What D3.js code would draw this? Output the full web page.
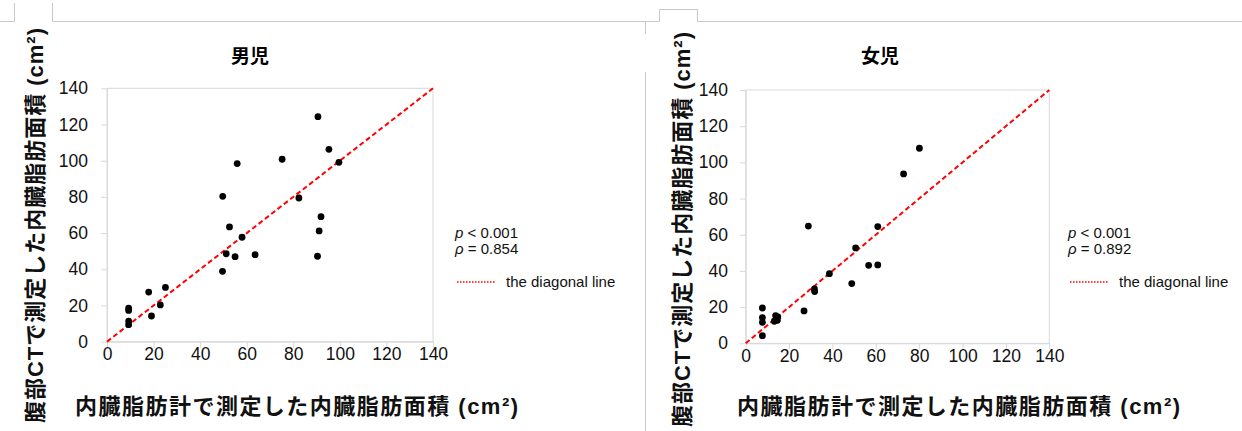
<!DOCTYPE html>
<html>
<head>
<meta charset="utf-8">
<script src="https://cdn.jsdelivr.net/npm/d3@7"></script>
<style>
  html, body { margin: 0; padding: 0; background: #fff; }
  svg { display: block; }
  .tick text { font-family: "Liberation Sans", Arial, sans-serif; font-size: 17.5px; fill: #111; }
  .tick line, .domain { stroke: #d9d9d9; }
</style>
</head>
<body>
<div id="chart"></div>
<script>
// values
const axisTicks = [0, 20, 40, 60, 80, 100, 120, 140];
const diagonal = [0, 140];

const boysMeter = [90.6, 95.3, 99.6, 75.2, 55.9, 82.4, 49.7, 91.9, 91.1, 52.6, 58.0, 51.2, 55.0, 63.6, 90.4, 49.6, 25.1, 17.9, 22.9, 19.1, 9.3, 9.3, 9.3, 9.3];
const boysCt = [124.3, 106.3, 99.1, 100.8, 98.4, 79.4, 80.3, 69.1, 61.2, 63.4, 57.7, 48.6, 47.0, 48.1, 47.2, 38.9, 30.0, 27.4, 20.3, 14.2, 18.6, 17.3, 11.4, 9.4];

const girlsMeter = [80.1, 72.8, 28.9, 60.9, 50.7, 56.7, 60.9, 38.6, 48.9, 31.7, 31.8, 26.9, 7.7, 7.7, 7.7, 7.7, 13.8, 14.8, 13.2, 14.6];
const girlsCt = [107.8, 93.6, 64.8, 64.5, 52.7, 43.1, 43.3, 38.5, 33.0, 30.0, 28.6, 17.9, 19.5, 14.2, 11.6, 4.2, 15.3, 14.6, 12.2, 12.7];

const panelTitles = ['男児', '女児'];
const pTexts = ['< 0.001', '< 0.001'];
const rhoTexts = ['= 0.854', '= 0.892'];
const legendLabel = 'the diagonal line';
const xTitle = '内臓脂肪計で測定した内臓脂肪面積 (cm²)';
const yTitle = '腹部CTで測定した内臓脂肪面積 (cm²)';

const W = 1242, H = 431;
const titleFont = '"Liberation Sans", Arial, "Noto Sans CJK JP", sans-serif';
const svg = d3.select('#chart').append('svg').attr('width', W).attr('height', H);

// page chrome (tab strip and divider)
const chrome = svg.append('g').attr('fill', 'none').attr('stroke', '#c8c8c8').attr('stroke-width', 1);
chrome.append('path').attr('d', 'M0,21.5H14.5V3');
chrome.append('path').attr('d', 'M52.5,3V21.5H659.5V9.5H697.5V21.5H1242');
chrome.append('path').attr('d', 'M645.5,21.5V34');
chrome.append('path').attr('d', 'M645.5,72V431');

const panels = [
  { xs: boysMeter, ys: boysCt, x0: 107, x1: 433, y0: 341.7, y1: 88.3, pad: 13,
    titleX: 250, yTitleX: 43, yTitleY: 225.5, xTitleX: 296.5, legendX: 455 },
  { xs: girlsMeter, ys: girlsCt, x0: 745.7, x1: 1049.3, y0: 343.3, y1: 90, pad: 11.7,
    titleX: 880, yTitleX: 690, yTitleY: 229.5, xTitleX: 958.5, legendX: 1068 }
];

function drawPanel(p, i) {
  const x = d3.scaleLinear().domain([0, 140]).range([p.x0, p.x1]);
  const y = d3.scaleLinear().domain([0, 140]).range([p.y0, p.y1]);
  const g = svg.append('g');

  // plot frame
  g.append('rect')
    .attr('x', p.x0).attr('y', p.y1)
    .attr('width', p.x1 - p.x0).attr('height', p.y0 - p.y1)
    .attr('fill', 'none').attr('stroke', '#d9d9d9');

  g.append('g')
    .attr('transform', `translate(${p.x0},0)`)
    .call(d3.axisLeft(y).tickValues(axisTicks).tickSize(6).tickSizeOuter(0).tickPadding(p.pad));

  g.append('g')
    .attr('transform', `translate(0,${p.y0})`)
    .call(d3.axisBottom(x).tickValues(axisTicks).tickSize(6).tickSizeOuter(0).tickPadding(0));

  // diagonal
  g.append('path')
    .datum(diagonal)
    .attr('d', d3.line().x(d => x(d)).y(d => y(d)))
    .attr('stroke', '#ff0000').attr('stroke-width', 2)
    .attr('stroke-dasharray', '5,3').attr('fill', 'none');

  // points
  g.selectAll('circle.pt')
    .data(p.xs.map((v, k) => [v, p.ys[k]]))
    .enter()
    .append('circle')
    .attr('class', 'pt')
    .attr('cx', d => x(d[0]))
    .attr('cy', d => y(d[1]))
    .attr('r', 3.4)
    .attr('fill', '#000');

  // titles
  g.append('text')
    .attr('x', p.titleX).attr('y', 63)
    .attr('text-anchor', 'middle')
    .style('font-family', '"Noto Sans CJK JP", sans-serif')
    .style('font-weight', 'bold').style('font-size', '19px')
    .text(panelTitles[i]);

  g.append('text')
    .attr('x', p.xTitleX).attr('y', 414)
    .attr('text-anchor', 'middle')
    .attr('textLength', 443).attr('lengthAdjust', 'spacing')
    .style('font-family', titleFont)
    .style('font-weight', 'bold').style('font-size', '22px').style('fill', '#111')
    .text(xTitle);

  g.append('text')
    .attr('transform', `translate(${p.yTitleX},${p.yTitleY}) rotate(-90)`)
    .attr('text-anchor', 'middle')
    .attr('textLength', 395).attr('lengthAdjust', 'spacing')
    .style('font-family', titleFont)
    .style('font-weight', 'bold').style('font-size', '22px').style('fill', '#111')
    .text(yTitle);

  // stats + legend
  const lg = g.append('g')
    .style('font-family', '"Liberation Sans", Arial, sans-serif')
    .style('font-size', '15px').style('fill', '#111');
  const t1 = lg.append('text').attr('x', p.legendX).attr('y', 238);
  t1.append('tspan').style('font-style', 'italic').text('p');
  t1.append('tspan').text(' ' + pTexts[i]);
  const t2 = lg.append('text').attr('x', p.legendX).attr('y', 254);
  t2.append('tspan').style('font-style', 'italic').text('ρ');
  t2.append('tspan').text(' ' + rhoTexts[i]);

  lg.append('line')
    .attr('x1', p.legendX + 2).attr('x2', p.legendX + 40)
    .attr('y1', 282).attr('y2', 282)
    .attr('stroke', '#ff0000').attr('stroke-width', 1.5)
    .attr('stroke-dasharray', '1.5,1.5');
  lg.append('text')
    .attr('x', p.legendX + 51).attr('y', 287)
    .text(legendLabel);
}

panels.forEach(drawPanel);
</script>
</body>
</html>
